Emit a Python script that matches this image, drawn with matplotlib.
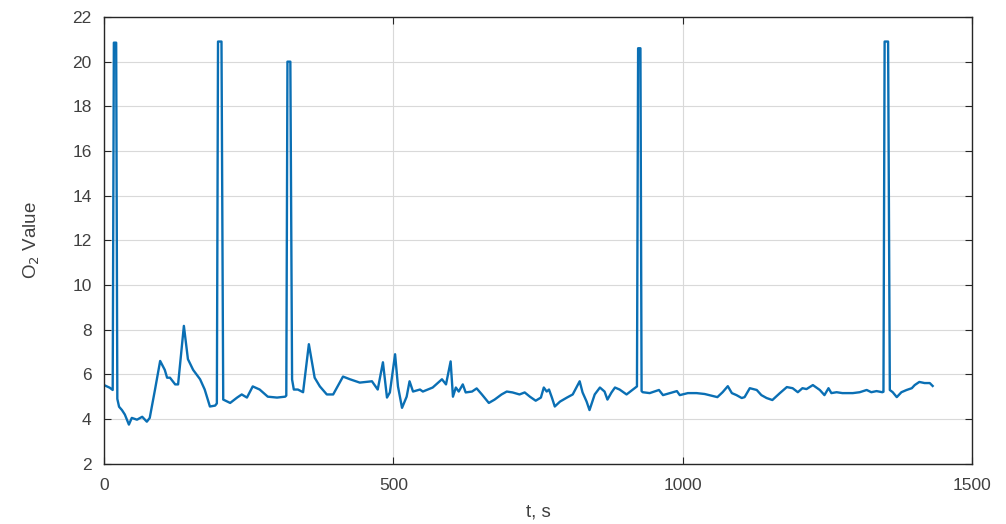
import matplotlib
matplotlib.use("Agg")
import matplotlib.pyplot as plt

plt.rcParams['font.family'] = ['Liberation Sans', 'DejaVu Sans']

t_s = [0, 10, 15, 17, 19, 21, 23,
       26, 31, 36, 43, 48, 57, 66, 74, 79, 88, 97, 105, 109, 114, 123, 128,
       138, 145, 154, 166, 174, 183, 192, 195, 197, 200, 203,
       206, 218, 230, 238, 247, 257, 269, 283, 299, 313, 315, 317, 320, 322,
       325, 328, 335, 344, 354, 364, 373, 385, 396, 413, 425, 442, 463, 473,
       482, 489, 494, 503, 508, 515, 523, 528, 534, 546, 551, 568, 584, 591,
       599, 603, 608, 613, 620, 625, 636, 644, 653, 665, 675, 687, 696, 706,
       718, 727, 736, 746, 755, 760, 765, 769, 774, 779, 788, 800, 810, 822,
       827, 834, 839, 848, 857, 865, 870, 877, 883, 891, 903, 914, 921, 923,
       925, 927, 929,
       931, 943, 959, 966, 978, 990, 995, 1009, 1024, 1038, 1052, 1060, 1069,
       1078, 1085, 1093, 1102, 1107, 1116, 1128, 1136, 1145, 1155, 1168, 1180,
       1190, 1199, 1207, 1214, 1225, 1237, 1245, 1252, 1257, 1266, 1276, 1294,
       1306, 1318, 1326, 1335, 1345, 1347, 1349, 1352, 1355,
       1358, 1363, 1370, 1378, 1387, 1396, 1401, 1409, 1418, 1427, 1432]

o2_value = [5.52, 5.40, 5.30, 20.85, 20.85, 20.85, 4.90,
            4.55, 4.40, 4.20, 3.75, 4.05, 3.97, 4.10, 3.88, 4.05, 5.30, 6.60,
            6.20, 5.85, 5.85, 5.55, 5.55,
            8.17, 6.68, 6.20, 5.78, 5.32, 4.56, 4.60, 4.70, 20.90, 20.90, 20.90,
            4.87, 4.72, 4.96, 5.10, 4.96, 5.46, 5.32, 5.00, 4.96, 5.00, 5.05,
            20.00, 20.00, 20.00,
            5.77, 5.32, 5.32, 5.20, 7.35, 5.85, 5.46, 5.10, 5.10, 5.90, 5.78,
            5.63, 5.69, 5.32,
            6.54, 4.96, 5.19, 6.90, 5.46, 4.50, 5.00, 5.69, 5.23, 5.32, 5.23,
            5.41, 5.78, 5.55,
            6.58, 5.00, 5.41, 5.23, 5.55, 5.19, 5.23, 5.37, 5.10, 4.72, 4.87,
            5.10, 5.23, 5.19,
            5.10, 5.19, 5.00, 4.82, 4.96, 5.41, 5.23, 5.32, 4.96, 4.56, 4.78,
            4.96, 5.10, 5.69,
            5.19, 4.78, 4.40, 5.10, 5.41, 5.23, 4.87, 5.19, 5.41, 5.32, 5.10,
            5.32, 5.46, 20.60,
            20.60, 20.60, 5.25,
            5.20, 5.16, 5.30, 5.07, 5.16, 5.25, 5.07, 5.16, 5.16, 5.12, 5.03,
            4.98, 5.20,
            5.47, 5.16, 5.07, 4.94, 4.98, 5.38, 5.30, 5.07, 4.94, 4.85, 5.16,
            5.43,
            5.38, 5.20, 5.38, 5.34, 5.52, 5.30, 5.07, 5.38, 5.16, 5.20, 5.16,
            5.16,
            5.20, 5.30, 5.20, 5.25, 5.20, 5.22, 20.90, 20.90, 20.90,
            5.30, 5.20, 4.98, 5.20, 5.30, 5.38, 5.52, 5.66, 5.61, 5.61, 5.48]

x_ticks = [0, 500, 1000, 1500]
y_ticks = [2, 4, 6, 8, 10, 12, 14, 16, 18, 20, 22]

fig = plt.figure(figsize=(10.06, 5.24), dpi=100)
ax = fig.add_axes([0.1034, 0.1151, 0.8628, 0.8525])

ax.plot(t_s, o2_value, color='#0a6fb4', linewidth=1.7)

ax.set_xlim(0, 1500)
ax.set_ylim(2, 22)
ax.set_xticks(x_ticks)
ax.set_yticks(y_ticks)
ax.grid(True, color='#d9d9d9', linewidth=0.8)
ax.set_axisbelow(True)

ax.tick_params(direction='in', length=5, width=0.8, top=True, right=True,
               labelsize=12.5, colors='#262626', labelcolor='#404040')
ax.tick_params(axis='x', pad=10)
ax.tick_params(axis='y', pad=9)
for sp in ax.spines.values():
    sp.set_color('#262626')
    sp.set_linewidth(1.0)

ax.set_xlabel('t, s', fontsize=13.5, color='#404040', labelpad=8)
ax.set_ylabel('O$_2$ Value', fontsize=13.5, color='#404040', labelpad=22)

fig.savefig('out.png', dpi=100)
